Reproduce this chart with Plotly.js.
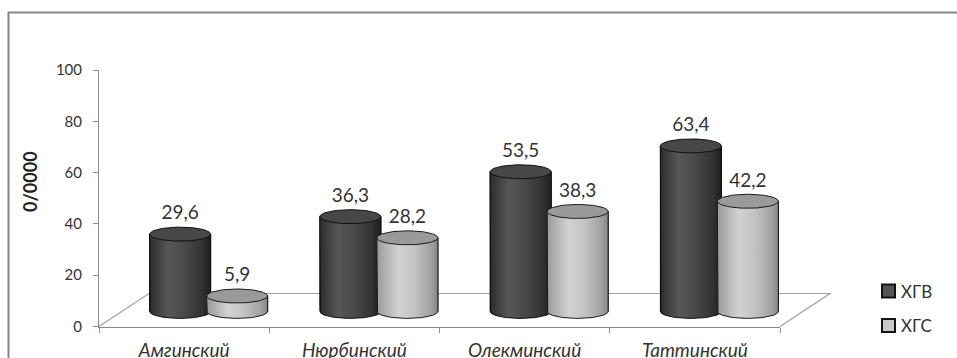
<!DOCTYPE html>
<html>
<head>
<meta charset="utf-8">
<script src="https://cdn.plot.ly/plotly-3.0.1.min.js"></script>
<style>
  html, body { margin: 0; padding: 0; background: #fff; }
  #chart { width: 957px; height: 358px; }
</style>
</head>
<body>
<div id="chart"></div>
<script>
// Районы и показатели заболеваемости (на 10 000 населения)
const categories = ['Амгинский', 'Нюрбинский', 'Олекминский', 'Таттинский'];
const seriesNames = ['ХГВ', 'ХГС'];
const valuesHGV = [29.6, 36.3, 53.5, 63.4];
const valuesHGS = [5.9, 28.2, 38.3, 42.2];
const yTickValues = [0, 20, 40, 60, 80, 100];
const yAxisTitle = '0/0000';

// ---- geometry of the pseudo-3D box (pixels) ----
const W = 957, H = 358;
const PL = 99, PR = 780, PT = 70, PB = 326.5;   // front value axis box
const UX = (PR - PL) / categories.length;       // px per category
const DEPTH_X = 50, DEPTH_Y = 33;               // floor depth offset
const SHIFT_X = 24.5;                           // cylinders sit mid-depth
const ZERO_PX = 311.4, PX_PER_UNIT = 2.61;      // cylinder value scale
const CYL_HALF_W = 30.5 / UX;                   // cylinder radius (x units)
const CYL_OFFSET = 28.5 / UX;                   // distance from group centre
const ELL_H = 7 / PX_PER_UNIT;                  // ellipse half height (y units)
const FONT = 'Lato, "Open Sans", sans-serif';

// legend block placement (pixels)
const LEG_X = 882, LEG_Y0 = 291, LEG_DY = 34.5, LEG_BOX = 13;

const px = v => v / W;
const py = v => (H - v) / H;

const seriesValues = [valuesHGV, valuesHGS];
const styles = [
  { base: '#454545', top: '#474747', edge: '#111111', swatch: '#555555',
    grad: [[0, '#2c2c2c'], [0.3, '#575757'], [0.55, '#4a4a4a'], [0.85, '#333333'], [1, '#1e1e1e']] },
  { base: '#bdbdbd', top: '#9a9a9a', edge: '#1a1a1a', swatch: '#c8c8c8',
    grad: [[0, '#9a9a9a'], [0.35, '#d2d2d2'], [0.6, '#c4c4c4'], [0.88, '#a3a3a3'], [1, '#858585']] }
];

const fmt = v => v.toFixed(1).replace('.', ',');
const N = 48;

const traces = [];

// front axes frame (holds the visible value / category axes)
traces.push({
  type: 'scatter', mode: 'none', x: [], y: [], xaxis: 'x', yaxis: 'y',
  showlegend: false, hoverinfo: 'skip'
});

// base bars (value bodies)
seriesValues.forEach((vals, s) => {
  const dir = s === 0 ? -1 : 1;
  traces.push({
    type: 'bar', x: categories.map((_, i) => i), y: vals,
    xaxis: 'x2', yaxis: 'y2',
    width: 2 * CYL_HALF_W, offset: dir * CYL_OFFSET - CYL_HALF_W,
    name: seriesNames[s], showlegend: false,
    marker: { color: styles[s].base, line: { color: '#000', width: 1 } },
    hoverinfo: 'skip'
  });
});

// cylinders: body with shading and top cap, drawn dark first then light
categories.forEach((_, i) => {
  seriesValues.forEach((vals, s) => {
    const v = vals[i];
    const xc = i + (s === 0 ? -1 : 1) * CYL_OFFSET;
    const st = styles[s];
    const bx = [xc - CYL_HALF_W], by = [v];
    bx.push(xc - CYL_HALF_W); by.push(0);
    for (let k = 0; k <= N; k++) {
      const t = Math.PI + Math.PI * k / N;
      bx.push(xc + CYL_HALF_W * Math.cos(t));
      by.push(ELL_H * Math.sin(t));
    }
    bx.push(xc + CYL_HALF_W); by.push(v);
    traces.push({
      type: 'scatter', mode: 'lines', x: bx, y: by, xaxis: 'x2', yaxis: 'y2',
      fill: 'toself', fillgradient: { type: 'horizontal', colorscale: st.grad },
      line: { color: st.edge, width: 1 }, showlegend: false, hoverinfo: 'skip'
    });
    const tx = [], ty = [];
    for (let k = 0; k <= 2 * N; k++) {
      const t = 2 * Math.PI * k / (2 * N);
      tx.push(xc + CYL_HALF_W * Math.cos(t));
      ty.push(v + ELL_H * Math.sin(t));
    }
    traces.push({
      type: 'scatter', mode: 'lines', x: tx, y: ty, xaxis: 'x2', yaxis: 'y2',
      fill: 'toself', fillcolor: st.top,
      line: { color: st.edge, width: 1 }, showlegend: false, hoverinfo: 'skip'
    });
  });
});

// value labels above each cap
seriesValues.forEach((vals, s) => {
  traces.push({
    type: 'scatter', mode: 'text',
    x: vals.map((_, i) => i + (s === 0 ? -1 : 1) * CYL_OFFSET),
    y: vals.map(v => v + ELL_H + 3 / PX_PER_UNIT),
    text: vals.map(fmt), textposition: 'top center',
    textfont: { family: FONT, size: 19, color: '#333' },
    xaxis: 'x2', yaxis: 'y2', cliponaxis: false,
    showlegend: false, hoverinfo: 'skip'
  });
});

const floorPath =
  `M${px(PL)},${py(PB)} L${px(PL + DEPTH_X)},${py(PB - DEPTH_Y)} ` +
  `L${px(PR + DEPTH_X)},${py(PB - DEPTH_Y)} L${px(PR)},${py(PB)}`;

// legend: swatch + series name
const legendShapes = seriesNames.map((_, s) => {
  const cy = LEG_Y0 + s * LEG_DY;
  return {
    type: 'rect', xref: 'paper', yref: 'paper', layer: 'above',
    x0: px(LEG_X), x1: px(LEG_X + LEG_BOX),
    y0: py(cy + LEG_BOX / 2), y1: py(cy - LEG_BOX / 2),
    fillcolor: styles[s].swatch, line: { color: '#111', width: 2 }
  };
});
const legendLabels = seriesNames.map((name, s) => ({
  text: name, xref: 'paper', yref: 'paper',
  x: px(LEG_X + LEG_BOX + 4), y: py(LEG_Y0 + s * LEG_DY),
  xanchor: 'left', yanchor: 'middle', showarrow: false,
  font: { family: FONT, size: 17, color: '#333' }
}));

const layout = {
  width: W, height: H,
  margin: { l: 0, r: 0, t: 0, b: 0 },
  paper_bgcolor: '#fff', plot_bgcolor: 'rgba(0,0,0,0)',
  font: { family: FONT, color: '#333' },
  barmode: 'overlay',
  showlegend: false,
  xaxis: {
    domain: [px(PL), px(PR)], range: [-0.5, categories.length - 0.5],
    anchor: 'y', tickmode: 'array',
    tickvals: categories.map((_, i) => i), ticktext: categories,
    ticks: '', showline: true, linecolor: '#8a8a8a', linewidth: 1,
    showgrid: false, zeroline: false, ticklabelstandoff: 7,
    tickfont: { family: FONT, size: 19, style: 'italic', color: '#333' },
    minor: { tickmode: 'linear', tick0: -0.5, dtick: 1, ticks: 'outside',
             ticklen: 5, tickcolor: '#8a8a8a', showgrid: false },
    fixedrange: true
  },
  yaxis: {
    domain: [py(PB), py(PT)], range: [0, 100], anchor: 'x',
    tickmode: 'array', tickvals: yTickValues,
    ticks: 'outside', ticklen: 5, tickcolor: '#8a8a8a',
    showline: true, linecolor: '#8a8a8a', linewidth: 1,
    showgrid: false, zeroline: false, ticklabelstandoff: 8,
    tickfont: { family: FONT, size: 15, color: '#333' },
    fixedrange: true
  },
  xaxis2: {
    overlaying: 'x', anchor: 'y2', visible: false,
    range: [-0.5 - SHIFT_X / UX, categories.length - 0.5 - SHIFT_X / UX]
  },
  yaxis2: {
    overlaying: 'y', anchor: 'x2', visible: false,
    range: [(ZERO_PX - PB) / PX_PER_UNIT, (ZERO_PX - PT) / PX_PER_UNIT]
  },
  shapes: [
    { type: 'rect', xref: 'paper', yref: 'paper', layer: 'below',
      x0: px(8.5), x1: 1.05, y0: -0.1, y1: py(12.5),
      line: { color: '#878787', width: 2 } },
    { type: 'path', xref: 'paper', yref: 'paper', layer: 'below',
      path: floorPath, line: { color: '#a0a0a0', width: 1.2 } }
  ].concat(legendShapes),
  annotations: [
    { text: '<b>' + yAxisTitle + '</b>', xref: 'paper', yref: 'paper',
      x: px(29.5), y: py(181.5), xanchor: 'center', yanchor: 'middle',
      textangle: -90, showarrow: false,
      font: { family: FONT, size: 18, color: '#222' } }
  ].concat(legendLabels)
};

Plotly.newPlot('chart', traces, layout, { staticPlot: true, displayModeBar: false });
</script>
</body>
</html>
